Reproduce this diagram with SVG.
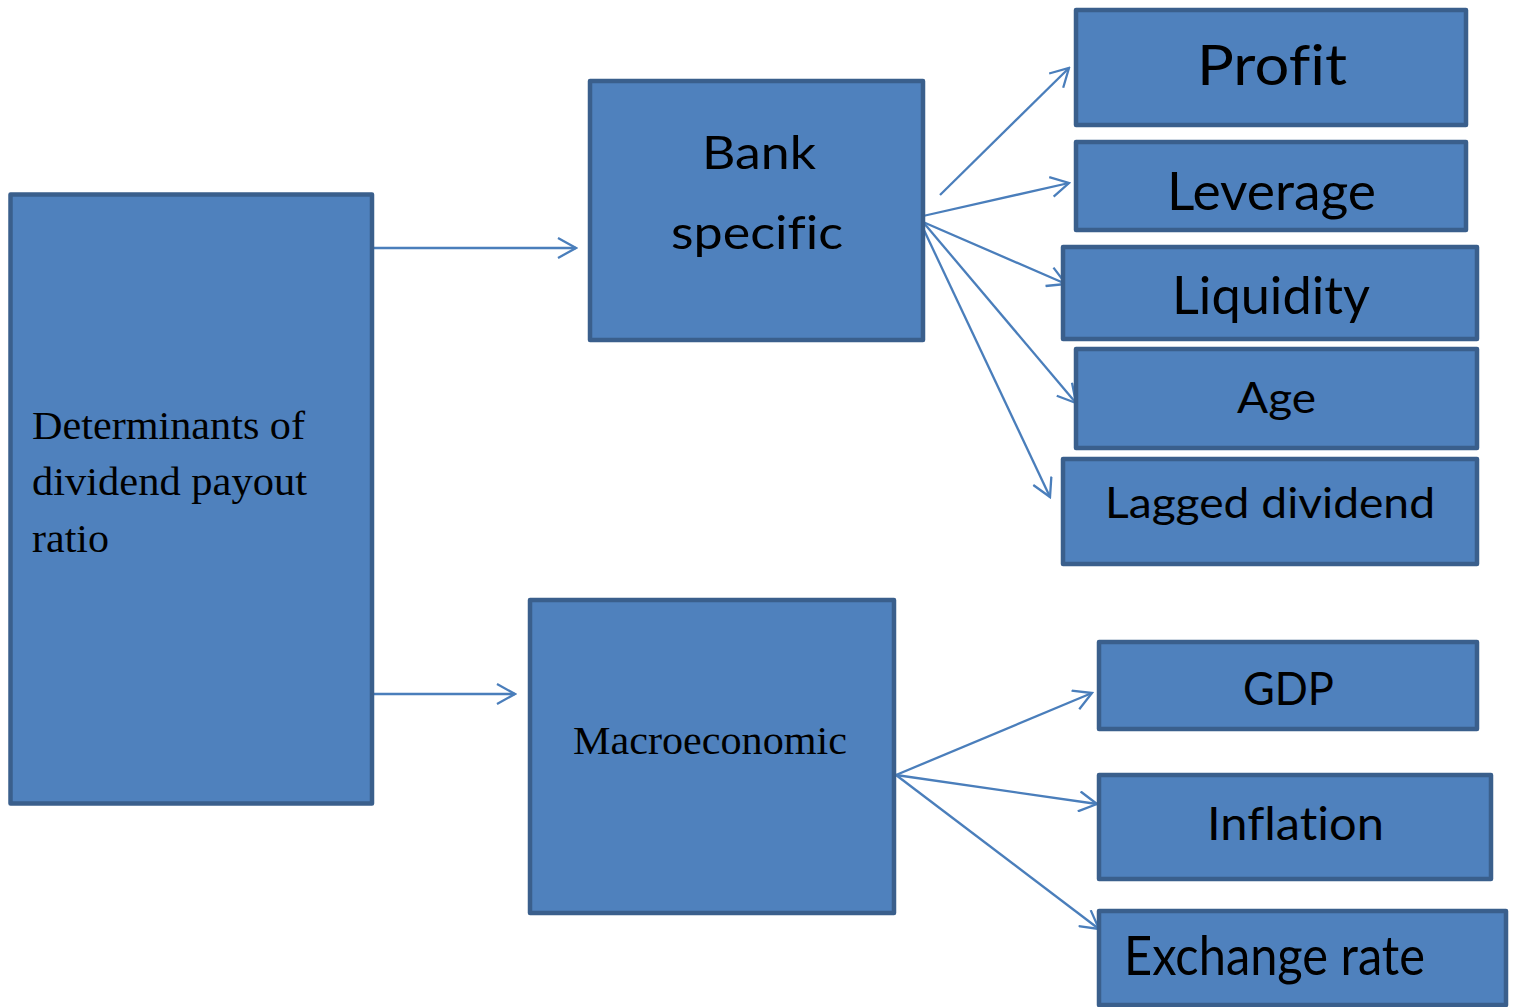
<svg xmlns="http://www.w3.org/2000/svg" width="1519" height="1007" viewBox="0 0 1519 1007">
<style>
.box{fill:#4F81BD;stroke:#3A5F8C;stroke-width:4.5;stroke-linejoin:round}
.c{fill:none;stroke:#4A7EBB;stroke-width:2.3;marker-end:url(#ah)}
.s{font-family:Lato,"Open Sans","Noto Sans",sans-serif;fill:#000;font-variant-ligatures:none;font-feature-settings:"liga" 0,"clig" 0}
.t{font-family:"Liberation Serif","Times New Roman",serif;fill:#000;font-size:39px}
</style>
<defs>
<marker id="ah" markerUnits="userSpaceOnUse" markerWidth="22" markerHeight="22" viewBox="0 0 22 22" refX="20" refY="11" orient="auto">
<path d="M2,1 L20,11 L2,21" fill="none" stroke="#4A7EBB" stroke-width="2.3"/>
</marker>
</defs>
<rect width="1519" height="1007" fill="#fff"/>
<g id="connectors">
<path class="c" d="M372,248 L576,248"/>
<path class="c" d="M372,694 L515,694"/>
<path class="c" d="M940,195 L1069,68"/>
<path class="c" d="M923,216 L1069,183"/>
<path class="c" d="M908,215 L923,222 L1066,284"/>
<path class="c" d="M923,222 L1076,403"/>
<path class="c" d="M923,228 L1050,497"/>
<path class="c" d="M896,775 L1092,693"/>
<path class="c" d="M896,775 L1097,804"/>
<path class="c" d="M896,775 L1099,929"/>
</g>
<g id="determinants">
<rect class="box" x="10.5" y="194.5" width="361.5" height="609"/>
<text class="t" x="32" y="439" textLength="273" lengthAdjust="spacingAndGlyphs">Determinants of</text>
<text class="t" x="32" y="495" textLength="275" lengthAdjust="spacingAndGlyphs">dividend payout</text>
<text class="t" x="32" y="552" textLength="77" lengthAdjust="spacingAndGlyphs">ratio</text>
</g>
<g id="bank">
<rect class="box" x="590" y="81" width="333" height="259"/>
<text class="s" x="702" y="169" font-size="46" textLength="114" lengthAdjust="spacingAndGlyphs">Bank</text>
<text class="s" x="671" y="249" font-size="46" textLength="172" lengthAdjust="spacingAndGlyphs">specific</text>
</g>
<g id="macro">
<rect class="box" x="530" y="600" width="364" height="313"/>
<text class="t" x="573" y="754" textLength="274" lengthAdjust="spacingAndGlyphs">Macroeconomic</text>
</g>
<g id="profit">
<rect class="box" x="1076" y="10" width="390" height="115"/>
<text class="s" x="1197" y="85" font-size="56" textLength="150" lengthAdjust="spacingAndGlyphs">Profit</text>
</g>
<g id="leverage">
<rect class="box" x="1076" y="142" width="390" height="88"/>
<text class="s" x="1167" y="210" font-size="52" textLength="209" lengthAdjust="spacingAndGlyphs">Leverage</text>
</g>
<g id="liquidity">
<rect class="box" x="1063" y="247" width="414" height="92"/>
<text class="s" x="1172" y="314" font-size="52" textLength="198" lengthAdjust="spacingAndGlyphs">Liquidity</text>
</g>
<g id="age">
<rect class="box" x="1076" y="349" width="401" height="99"/>
<text class="s" x="1237" y="413" font-size="43" textLength="79" lengthAdjust="spacingAndGlyphs">Age</text>
</g>
<g id="lagged">
<rect class="box" x="1063" y="459" width="414" height="105"/>
<text class="s" x="1105" y="518" font-size="42" textLength="330" lengthAdjust="spacingAndGlyphs">Lagged dividend</text>
</g>
<g id="gdp">
<rect class="box" x="1099" y="642" width="378" height="87"/>
<text class="s" x="1243" y="705" font-size="46" textLength="91" lengthAdjust="spacingAndGlyphs">GDP</text>
</g>
<g id="inflation">
<rect class="box" x="1099" y="775" width="392" height="104"/>
<text class="s" x="1207" y="840" font-size="47" textLength="177" lengthAdjust="spacingAndGlyphs">Inflation</text>
</g>
<g id="exchange">
<rect class="box" x="1099" y="911" width="407" height="94"/>
<text class="s" x="1124" y="975" font-size="54" textLength="301" lengthAdjust="spacingAndGlyphs">Exchange rate</text>
</g>
</svg>
